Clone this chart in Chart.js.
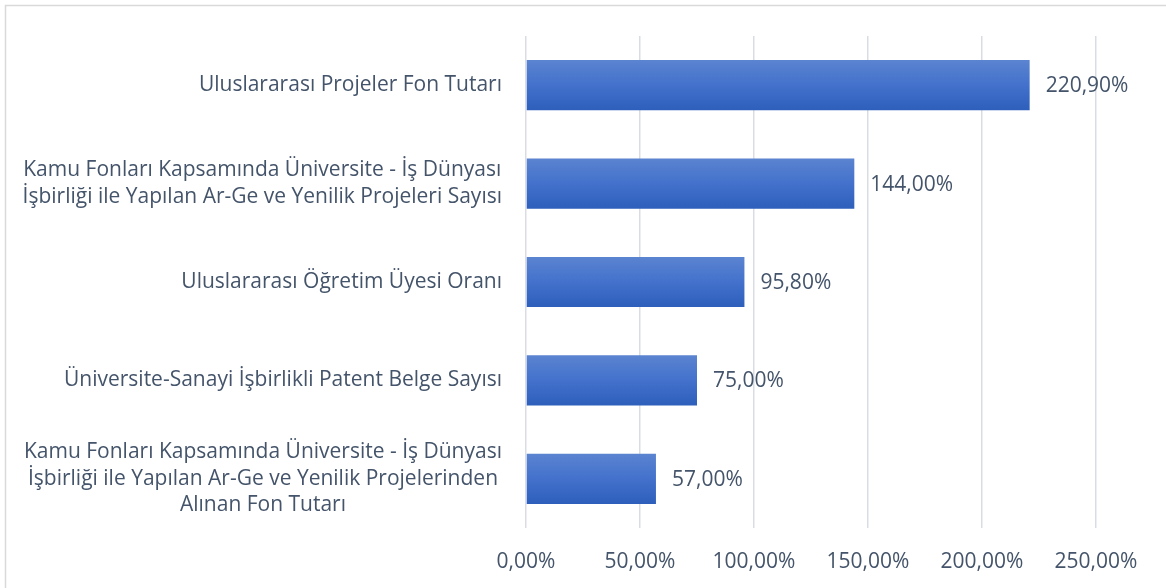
<!DOCTYPE html>
<html lang="tr">
<head>
<meta charset="UTF-8">
<title>Grafik</title>
<script src="https://cdn.jsdelivr.net/npm/chart.js@4"></script>
<style>
  html, body { margin: 0; padding: 0; background: #fff; }
  #wrap { width: 1166px; height: 588px; position: relative; }
</style>
</head>
<body>
<div id="wrap"><canvas id="chart"></canvas></div>
<script>
// categories (multi-line labels, as they wrap in the original)
const categories = [
    ['Uluslararası Projeler Fon Tutarı'],
    ['Kamu Fonları Kapsamında Üniversite - İş Dünyası', 'İşbirliği ile Yapılan Ar-Ge ve Yenilik Projeleri Sayısı'],
    ['Uluslararası Öğretim Üyesi Oranı'],
    ['Üniversite-Sanayi İşbirlikli Patent Belge Sayısı'],
    ['Kamu Fonları Kapsamında Üniversite - İş Dünyası', 'İşbirliği ile Yapılan Ar-Ge ve Yenilik Projelerinden', 'Alınan Fon Tutarı']
];
const values = [220.9, 144.0, 95.8, 75.0, 57.0];
const tickValues = [0, 50, 100, 150, 200, 250];

const FONT = '"Open Sans"';
const SIZE = 21;
const TEXT = '#44546a';
const pct = v => v.toFixed(2).replace('.', ',') + '%';

// frame lines on top/left edge
const framePlugin = {
    id: 'frame',
    beforeDraw(chart) {
        const ctx = chart.ctx;
        ctx.save();
        ctx.strokeStyle = '#d9d9d9';
        ctx.lineWidth = 1.5;
        ctx.beginPath();
        ctx.moveTo(5.5, chart.height);
        ctx.lineTo(5.5, 5.5);
        ctx.lineTo(chart.width, 5.5);
        ctx.stroke();
        ctx.restore();
    }
};

// category labels: block right aligned, lines centered inside block
const catLabels = {
    id: 'catLabels',
    afterDraw(chart) {
        const ctx = chart.ctx;
        const y = chart.scales.y;
        const right = y.right - 24;
        const lh = 26.5;
        ctx.save();
        ctx.font = SIZE + 'px ' + FONT;
        ctx.fillStyle = TEXT;
        ctx.textAlign = 'center';
        ctx.textBaseline = 'middle';
        categories.forEach((lines, i) => {
            const w = Math.max(...lines.map(l => ctx.measureText(l).width));
            const cx = right - w / 2;
            const cy = y.getPixelForValue(i);
            const top = cy - (lines.length - 1) * lh / 2;
            lines.forEach((l, k) => ctx.fillText(l, cx, top + k * lh));
        });
        ctx.restore();
    }
};

// value labels to the right of each bar
const valueLabels = {
    id: 'valueLabels',
    afterDatasetsDraw(chart) {
        const ctx = chart.ctx;
        const meta = chart.getDatasetMeta(0);
        ctx.save();
        ctx.font = SIZE + 'px ' + FONT;
        ctx.fillStyle = TEXT;
        ctx.textAlign = 'left';
        ctx.textBaseline = 'middle';
        meta.data.forEach((bar, i) => {
            ctx.fillText(pct(values[i]), bar.x + 16, bar.y + 1);
        });
        ctx.restore();
    }
};

function barGradient(context) {
    const chart = context.chart;
    const ys = chart.scales.y;
    if (!ys || context.dataIndex === undefined) return '#4472c4';
    const cy = ys.getPixelForValue(context.dataIndex);
    if (!isFinite(cy)) return '#4472c4';
    const half = 25;
    const g = chart.ctx.createLinearGradient(0, cy - half, 0, cy + half);
    g.addColorStop(0, '#5b84d0');
    g.addColorStop(0.5, '#4371cc');
    g.addColorStop(1, '#2d5fbb');
    return g;
}

new Chart(document.getElementById('chart'), {
    type: 'bar',
    data: {
        labels: categories.map(c => c.join(' ')),
        datasets: [{
            data: values,
            backgroundColor: barGradient,
            borderWidth: 0,
            barPercentage: 0.51,
            categoryPercentage: 1
        }]
    },
    options: {
        indexAxis: 'y',
        responsive: true,
        maintainAspectRatio: false,
        animation: false,
        layout: { padding: { top: 36, right: 70, left: 0, bottom: 0 } },
        plugins: {
            legend: { display: false },
            tooltip: { enabled: false }
        },
        scales: {
            x: {
                min: 0,
                max: 250,
                afterBuildTicks: s => { s.ticks = tickValues.map(v => ({ value: v })); },
                afterFit: s => { s.height = 60; },
                border: { display: false },
                grid: { color: '#d9dde3', lineWidth: 1.5, drawTicks: false },
                ticks: {
                    padding: 21,
                    color: TEXT,
                    font: { family: FONT, size: SIZE },
                    callback: v => pct(v)
                }
            },
            y: {
                afterFit: s => { s.width = 526; },
                border: { display: false },
                grid: { display: false },
                ticks: { display: false }
            }
        }
    },
    plugins: [framePlugin, catLabels, valueLabels]
});
</script>
</body>
</html>
